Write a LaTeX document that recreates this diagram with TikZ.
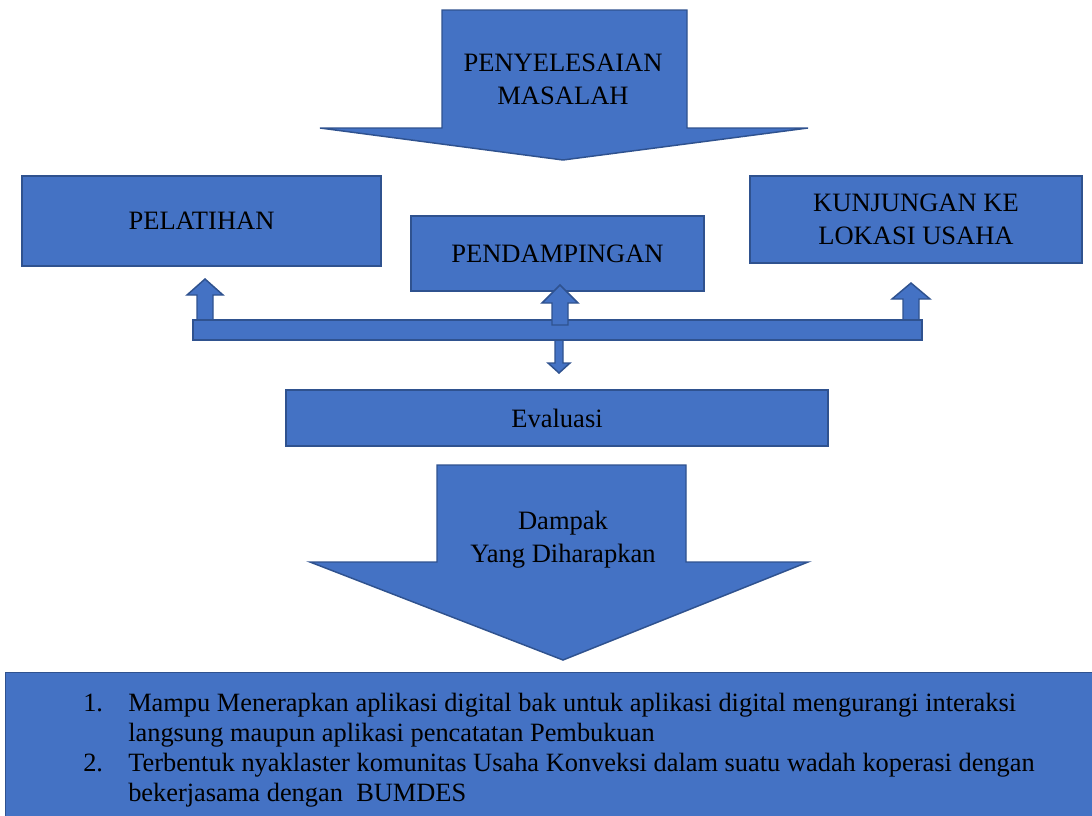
\documentclass[tikz,border=0pt]{standalone}
\usepackage{fontspec}
\setmainfont{Liberation Serif}
\usetikzlibrary{math}

\definecolor{biru}{HTML}{4472C4}
\definecolor{birutepi}{HTML}{2F528F}

\begin{document}
\begin{tikzpicture}[x=0.75pt, y=-0.75pt]

	\tikzmath{
		\u = 0.75;   % 1 px = 0.75 pt
	}

	\useasboundingbox (0,0) rectangle (1092,815);

	\tikzset{bentuk/.style={
				fill=biru,
				draw=birutepi,
				line width=1.1pt
			}}
	\tikzset{kotak/.style={
				bentuk, rectangle, inner sep=0pt, align=center,
				font=\fontsize{19.9}{24.8}\selectfont
			}}
	\tikzset{teks/.style={align=center, font=\fontsize{19.9}{24.8}\selectfont}}

	% Panah besar : penyelesaian masalah
	\draw[bentuk] (442,10) -- (687,10) -- (687,128) -- (808,128)
	-- (563,160) -- (320,128) -- (442,128) -- cycle;
	\node[teks] (masalah) at (563,79) {PENYELESAIAN\\MASALAH};

	% Tiga kegiatan
	\node[kotak, minimum width={359*\u pt}, minimum height={90*\u pt}]
	(pelatihan) at (201.5,221) {PELATIHAN};
	\node[kotak, minimum width={293*\u pt}, minimum height={75*\u pt}]
	(pendampingan) at (557.5,253.5) {PENDAMPINGAN};
	\node[kotak, minimum width={332*\u pt}, minimum height={87*\u pt}]
	(kunjungan) at (916,219.5) {KUNJUNGAN KE\\LOKASI USAHA};

	% Panah kecil (di belakang batang)
	\draw[bentuk] (197,320) -- (197,295) -- (187,295) -- (205,279)
	-- (223,295) -- (213,295) -- (213,320) -- cycle;
	\draw[bentuk] (903,320) -- (903,299) -- (892,299) -- (911,283)
	-- (930,299) -- (919,299) -- (919,320) -- cycle;
	\draw[bentuk] (555,340) -- (555,363) -- (548,363) -- (559,373)
	-- (570,363) -- (563,363) -- (563,340) -- cycle;

	% Batang penghubung
	\node[kotak, minimum width={729*\u pt}, minimum height={20*\u pt}]
	(batang) at (557.5,330) {};

	\draw[bentuk] (552,325) -- (552,303) -- (542,303) -- (560,285)
	-- (578,303) -- (568,303) -- (568,325) -- cycle;

	% Evaluasi
	\node[kotak, minimum width={542*\u pt}, minimum height={56*\u pt}]
	(evaluasi) at (557,418) {Evaluasi};

	% Panah besar : dampak
	\draw[bentuk] (437,465) -- (686,465) -- (686,562) -- (808,562)
	-- (563,660) -- (310,562) -- (437,562) -- cycle;
	\node[teks] (dampak) at (563,540) {Dampak\\Yang Diharapkan};

	% Hasil
	\node[kotak, anchor=north west, minimum width={1095*\u pt}, minimum height={150*\u pt}]
	(hasil) at (5,672) {};
	\node[anchor=base west, inner sep=0pt, font=\fontsize{19.8}{22.5}\selectfont]
	(daftar) at (83,711) {%
		\begin{tabular}[t]{@{}p{33.75pt}@{}p{760pt}@{}}
			1. & Mampu Menerapkan aplikasi digital bak untuk aplikasi digital mengurangi interaksi\newline
			langsung maupun aplikasi pencatatan Pembukuan \\
			2. & Terbentuk nyaklaster komunitas Usaha Konveksi dalam suatu wadah koperasi dengan\newline
			bekerjasama dengan~~BUMDES
		\end{tabular}};

\end{tikzpicture}
\end{document}
